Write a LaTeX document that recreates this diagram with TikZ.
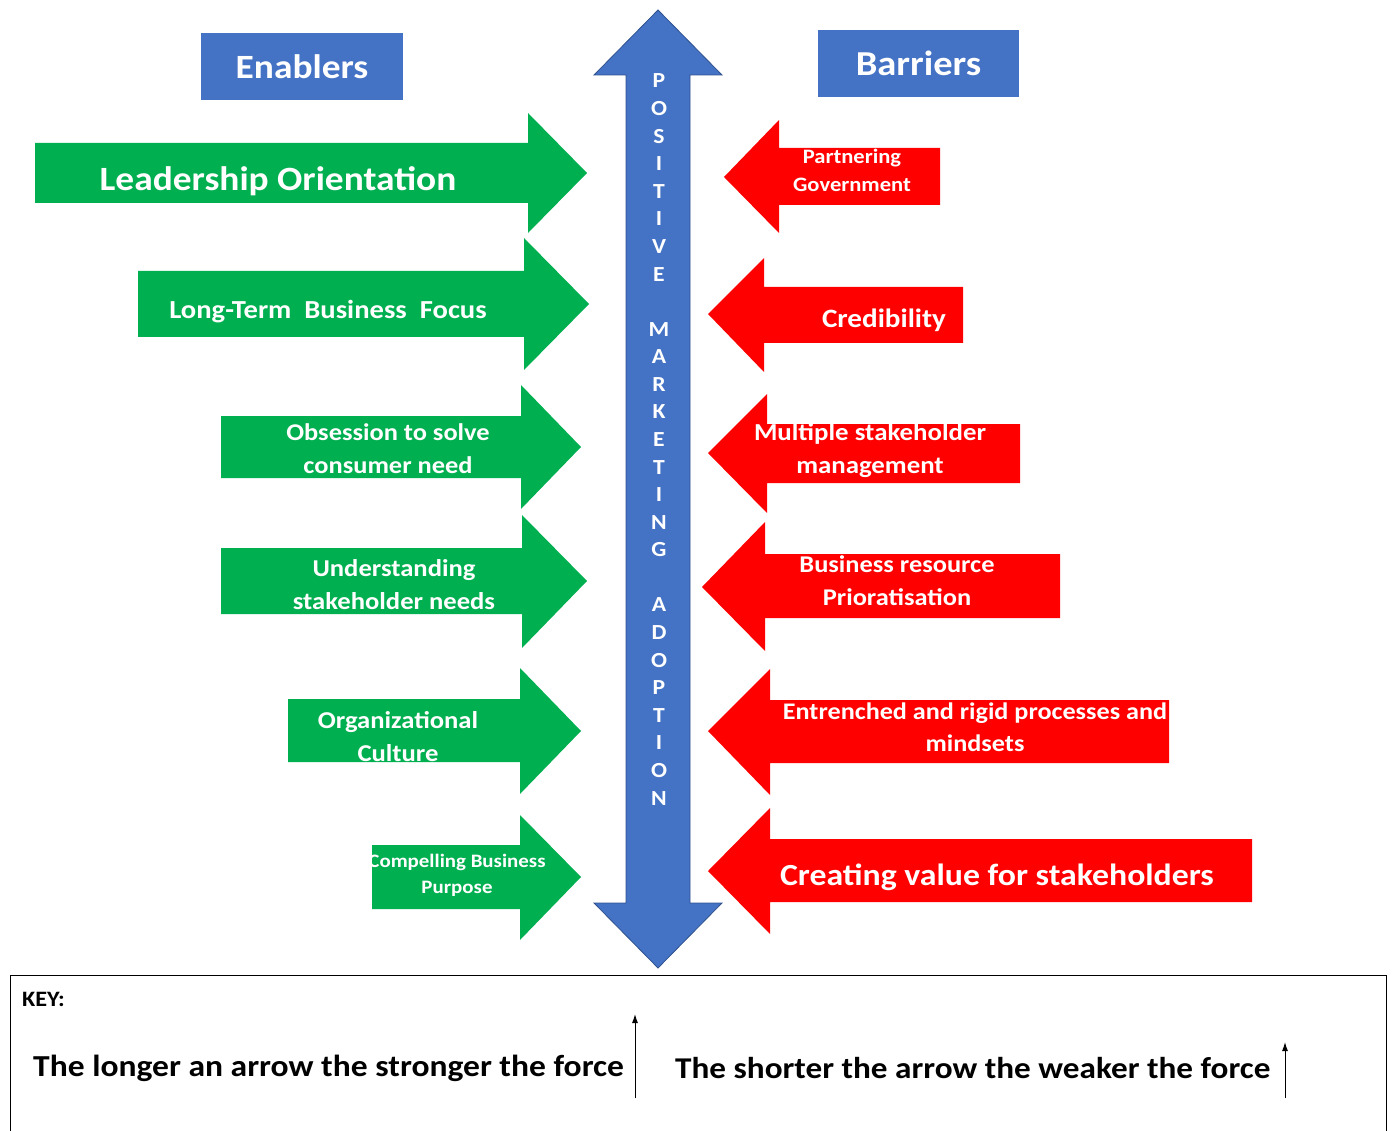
\documentclass[tikz,border=0pt]{standalone}
\usepackage{fontspec}
\usetikzlibrary{arrows.meta}
\setmainfont{Carlito}[FakeStretch=1.1]
\definecolor{ppblue}{HTML}{4472C4}
\definecolor{ppblueline}{HTML}{2F528F}
\definecolor{ppgreen}{HTML}{00B050}
\definecolor{ppred}{HTML}{FF0000}
\newcommand{\fsz}[1]{\bfseries\fontsize{#1}{1.36\dimexpr#1pt\relax}\selectfont}
\begin{document}
\begin{tikzpicture}[x=1pt,y=-1pt,
  lbl/.style={text=white,inner sep=0pt,align=center},
  hdr/.style={fill=ppblue,text=white,inner sep=0pt},
  keytxt/.style={inner sep=0pt,anchor=west},
  keyarrow/.style={-{Latex[length=9pt,width=6pt]},line width=1pt},
  green/.style={fill=ppgreen},
  red/.style={fill=ppred}]
\useasboundingbox (0,0) rectangle (1392,1131);

% central double-headed arrow
\filldraw[fill=ppblue,draw=ppblueline,line width=0.8pt]
  (658,10) -- (722,75) -- (690,75) -- (690,903) -- (722,903) -- (658,968)
  -- (594,903) -- (626,903) -- (626,75) -- (594,75) -- cycle;
\foreach \c [count=\i from 0] in {P,O,S,I,T,I,V,E,{},M,A,R,K,E,T,I,N,G,{},A,D,O,P,T,I,O,N}
  \node[lbl,font=\fsz{21.5}] (ax\i) at (659,{81+27.58*\i}) {\c};

% headers
\node[hdr,font=\fsz{34},minimum width=202pt,minimum height=67pt] (enab) at (302,66.5) {Enablers};
\node[hdr,font=\fsz{35},minimum width=201pt,minimum height=67pt] (barr) at (918.5,63.5) {Barriers};

% enabling forces (right-pointing)
\fill[green] (35,143) -- (528,143) -- (528,113) -- (587,173) -- (528,233) -- (528,203) -- (35,203) -- cycle;
\node[lbl,font=\fsz{34}] (e1) at (278,181) {Leadership Orientation};

\fill[green] (138,271) -- (524,271) -- (524,238) -- (589,304) -- (524,370) -- (524,337) -- (138,337) -- cycle;
\node[lbl,font=\fsz{26}] (e2) at (328,312) {Long-Term\enspace Business\enspace Focus};

\fill[green] (221,416) -- (521,416) -- (521,385) -- (581,447) -- (521,509) -- (521,478) -- (221,478) -- cycle;
\node[lbl,font=\fsz{24}] (e3) at (388,448.5) {Obsession to solve\\consumer need};

\fill[green] (221,548) -- (522,548) -- (522,515) -- (587,581) -- (522,648) -- (522,614) -- (221,614) -- cycle;
\node[lbl,font=\fsz{24.2}] (e4) at (394,584.5) {Understanding\\stakeholder needs};

\fill[green] (288,699) -- (520,699) -- (520,668) -- (581,731) -- (520,794) -- (520,762) -- (288,762) -- cycle;
\node[lbl,font=\fsz{24.2}] (e5) at (398,736.5) {Organizational\\Culture};

\fill[green] (372,845) -- (520,845) -- (520,815) -- (581,877) -- (520,940) -- (520,909) -- (372,909) -- cycle;
\node[lbl,font=\fsz{19}] (e6) at (457,875.5) {Compelling Business\\Purpose};

% restraining forces (left-pointing)
\fill[red] (940,148) -- (779,148) -- (779,120) -- (724,177) -- (779,233) -- (779,205) -- (940,205) -- cycle;
\node[lbl,font=\fsz{20.5}] (b1) at (852,170.5) {Partnering\\Government};

\fill[red] (963,287) -- (764,287) -- (764,258) -- (708,314) -- (764,372) -- (764,343) -- (963,343) -- cycle;
\node[lbl,font=\fsz{26.5}] (b2) at (884,320) {Credibility};

\fill[red] (1020,424) -- (767,424) -- (767,394) -- (708,453) -- (767,513) -- (767,483) -- (1020,483) -- cycle;
\node[lbl,font=\fsz{24.4}] (b3) at (870,450.5) {Multiple stakeholder\\management};

\fill[red] (1060,554) -- (765,554) -- (765,522) -- (702,587) -- (765,651) -- (765,618) -- (1060,618) -- cycle;
\node[lbl,font=\fsz{24}] (b4) at (897,580.5) {Business resource\\Prioratisation};

\fill[red] (1169,700) -- (770,700) -- (770,669) -- (708,731) -- (770,795) -- (770,763) -- (1169,763) -- cycle;
\node[lbl,font=\fsz{23.8}] (b5) at (975,727.5) {Entrenched and rigid processes and\\mindsets};

\fill[red] (1252,839) -- (770,839) -- (770,808) -- (708,871) -- (770,934) -- (770,902) -- (1252,902) -- cycle;
\node[lbl,font=\fsz{30.7}] (b6) at (997,877) {Creating value for stakeholders};

% key
\draw[line width=1pt] (10,1131) -- (10,975) -- (1386,975) -- (1386,1131);
\node[font=\fsz{22},inner sep=0pt,anchor=west] (key) at (22,999) {KEY:};
\node[keytxt,font=\fsz{30.5}] (k1) at (33,1068) {The longer an arrow the stronger the force};
\node[keytxt,font=\fsz{30.2}] (k2) at (675,1068) {The shorter the arrow the weaker the force};
\coordinate (k1a) at (635,1098);
\coordinate (k1b) at (635,1014);
\coordinate (k2a) at (1285,1098);
\coordinate (k2b) at (1285,1042);
\draw[keyarrow] (k1a) -- (k1b);
\draw[keyarrow] (k2a) -- (k2b);
\end{tikzpicture}
\end{document}
